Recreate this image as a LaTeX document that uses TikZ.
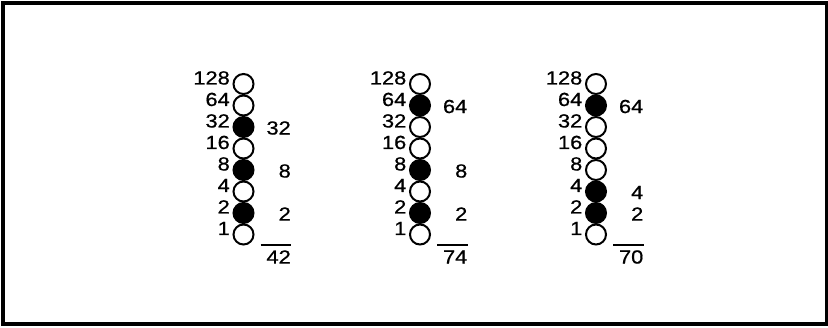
\documentclass[tikz,border=0pt]{standalone}
\usepackage{fontspec}
\setmainfont[FakeStretch=1.15,FakeBold=0.7]{Liberation Sans}
\begin{document}
\begin{tikzpicture}[x=1pt,y=-1pt,
  bit/.style={circle,draw=black,line width=2pt,minimum size=20pt,inner sep=0pt},
  on/.style={bit,fill=black},
  off/.style={bit,fill=white},
  weight/.style={anchor=base east,inner sep=0pt,font=\fontsize{19}{21}\selectfont},
  value/.style={anchor=east,inner sep=0pt,font=\fontsize{19}{21}\selectfont},
  rule/.style={line width=1.2pt},
  frame/.style={line width=3.5pt}]
\useasboundingbox (0,0) rectangle (828,328);
\draw[frame] (3,3) rectangle (827,324);
% columns: index / x / bits (1 = set) from 128 down to 1 / sum
\foreach \c/\cx/\bits/\sum in {a/243.5/{0,0,1,0,1,0,1,0}/42, b/420/{0,1,0,0,1,0,1,0}/74, c/596/{0,1,0,0,0,1,1,0}/70}{
  \foreach \w [count=\i from 0] in {128,64,32,16,8,4,2,1}{
    \pgfmathsetmacro{\yy}{84+21.5*\i}
    \pgfmathparse{{\bits}[\i]}
    \ifnum\pgfmathresult=1
      \node[on] (\c\w) at (\cx,\yy) {};
      \node[value] (\c v\w) at (\cx+47.5,\yy+1) {\w};
    \else
      \node[off] (\c\w) at (\cx,\yy) {};
    \fi
    \node[weight] (\c l\w) at (\cx-13.5,\yy+0.5) {\w};
  }
  \coordinate (\c r1) at (\cx+17,245);
  \coordinate (\c r2) at (\cx+47.5,245);
  \draw[rule] (\c r1) -- (\c r2);
  \node[value] (\c sum) at (\cx+47.5,257) {\sum};
}
\end{tikzpicture}
\end{document}
